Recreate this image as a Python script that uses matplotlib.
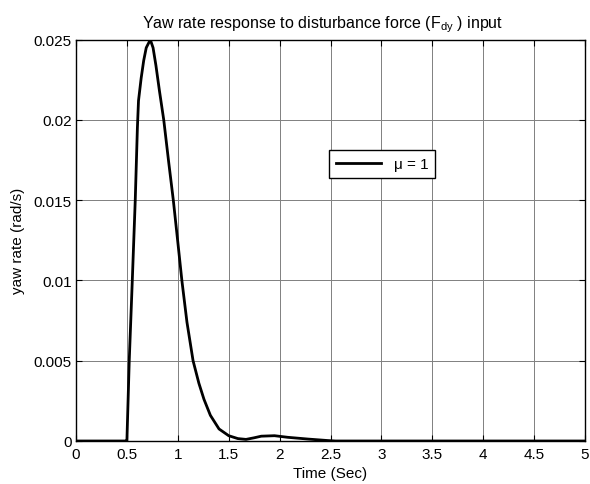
import matplotlib
matplotlib.use("Agg")
import matplotlib.pyplot as plt
from matplotlib.ticker import FuncFormatter

plt.rcParams['font.family'] = ['Liberation Sans', 'DejaVu Sans']
plt.rcParams['mathtext.fontset'] = 'custom'
plt.rcParams['mathtext.rm'] = 'Liberation Sans'

# Data
time_s = [0.0, 0.49, 0.50, 0.523, 0.553, 0.582, 0.603, 0.614, 0.64, 0.665, 0.69,
          0.73, 0.757, 0.785, 0.82, 0.862, 0.91, 0.956, 1.0, 1.04, 1.09, 1.15,
          1.207, 1.257, 1.32, 1.405, 1.50, 1.59, 1.67, 1.75, 1.82, 1.95, 2.08,
          2.28, 2.47, 2.55, 5.0]
yaw_rate = [0.0, 0.0, 0.0, 0.005, 0.010, 0.015, 0.0195, 0.0212, 0.0226, 0.0237, 0.0245,
            0.0250, 0.0245, 0.0234, 0.0218, 0.0200, 0.0174, 0.0150, 0.0124, 0.0100,
            0.0074, 0.0050, 0.0036, 0.0026, 0.0016, 0.00075, 0.00033, 0.00015,
            0.00010, 0.00020, 0.00030, 0.00033, 0.00023, 0.00012, 0.00003, 0.0, 0.0]
series_label = "\u03bc = 1"
x_ticks = [0, 0.5, 1, 1.5, 2, 2.5, 3, 3.5, 4, 4.5, 5]
y_ticks = [0, 0.005, 0.01, 0.015, 0.02, 0.025]

fig = plt.figure(figsize=(5.9, 4.85), dpi=100)
ax = fig.add_axes([76/590, 1-442/485, 509/590, 401.3/485])

ax.plot(time_s, yaw_rate, color='black', lw=2.0, label=series_label)

ax.set_xlim(0, 5)
ax.set_ylim(0, 0.025)
ax.set_xticks(x_ticks)
ax.set_yticks(y_ticks)
fmt = FuncFormatter(lambda v, p: ('%g' % v))
ax.xaxis.set_major_formatter(fmt)
ax.yaxis.set_major_formatter(fmt)
ax.tick_params(direction='in', length=4, width=0.8, labelsize=11, top=True, right=True, pad=3)
ax.tick_params(axis='x', pad=4.5)
ax.grid(True, color='#808080', lw=0.7, ls='-')
for s in ax.spines.values():
    s.set_linewidth(1.0)
    s.set_color('black')

ax.set_xlabel('Time (Sec)', fontsize=11, labelpad=3.5)
ax.set_ylabel('yaw rate (rad/s)', fontsize=11, labelpad=6)
ttl = ax.set_title(r'Yaw rate response to disturbance force (F$_{\mathregular{dy}}$ ) input',
                   fontsize=11.5, pad=9)
ttl.set_x(0.484)

leg = ax.legend(loc='center', bbox_to_anchor=(0.601, 0.69), fancybox=False, framealpha=1,
                edgecolor='black', fontsize=11, handlelength=3.0, borderpad=0.45)
leg.get_frame().set_linewidth(1.0)

fig.savefig('out.png', dpi=100)
